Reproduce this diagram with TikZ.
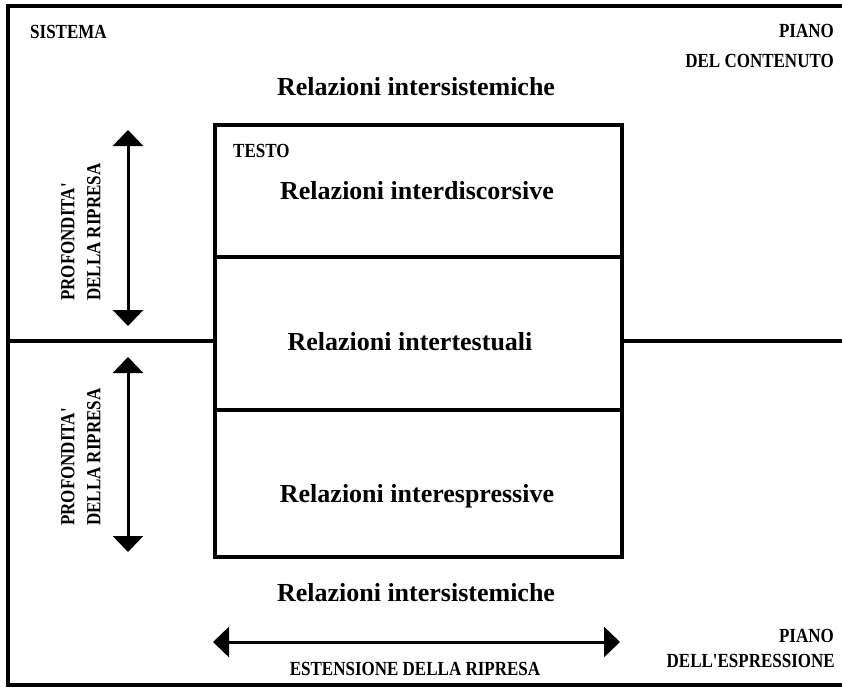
\documentclass[tikz,border=0pt]{standalone}
\usepackage{fontspec}
\setmainfont{Liberation Serif}
\newfontfamily\narrowfont[FakeStretch=0.85]{Liberation Serif}
\usetikzlibrary{positioning}
\usetikzlibrary{arrows.meta}
\tikzset{
  frame/.style    = {draw, line width=4pt, inner sep=0pt, outer sep=0pt,
                     minimum width=842pt, minimum height=679pt},
  row/.style      = {draw, line width=4pt, inner sep=0pt, outer sep=0pt,
                     minimum width=407pt},
  relation/.style = {font=\fontsize{26}{30}\selectfont\bfseries, anchor=base},
  tag/.style      = {font=\narrowfont\fontsize{20}{26}\selectfont\bfseries, inner sep=0pt},
  span/.style     = {line width=3pt,
                     {Triangle[width=30pt,length=16pt]}-{Triangle[width=30pt,length=16pt]}}
}

\begin{document}
\begin{tikzpicture}[x=1pt, y=-1pt]
  \useasboundingbox (0,0) rectangle (842,691);
  \node [frame] (frame) at (429,345.5) {};
  % the text box
  \node [row, minimum height=132pt] (discorsive) at (418.5,191) {};
  \node [row, minimum height=153pt] (testuali) [below=0pt of discorsive] {};
  \node [row, minimum height=147pt] (espressive) [below=0pt of testuali] {};
  \coordinate (split) at (0,341);
  \draw [line width=3.5pt] (frame.west |- split) -- (testuali.west |- split);
  \draw [line width=3.5pt] (testuali.east |- split) -- (frame.east |- split);
  % relations
  \node [relation] (sysup) at (416,95) {Relazioni intersistemiche};
  \node [relation] (disc) at (417,199) {Relazioni interdiscorsive};
  \node [relation] (test) at (410,350) {Relazioni intertestuali};
  \node [relation] (espr) at (417,502) {Relazioni interespressive};
  \node [relation] (sysdown) at (416,601) {Relazioni intersistemiche};
  % labels
  \node [tag, anchor=base west] (sistema) at (30,38) {SISTEMA};
  \node [tag, anchor=base west] (testo) at (233,157) {TESTO};
  \node [tag, anchor=base east] (piano1) at (834,37) {PIANO};
  \node [tag, anchor=base east] (contenuto) at (834,67) {DEL CONTENUTO};
  \node [tag, anchor=base east] (piano2) at (834,642) {PIANO};
  \node [tag, anchor=base east] (espressione) at (835,667) {DELL'ESPRESSIONE};
  \node [tag, anchor=base] (estensione) at (415,675) {ESTENSIONE DELLA RIPRESA};
  \node [tag, rotate=90, align=left, anchor=north west] (depth1) at (61,301) {PROFONDITA'\\DELLA RIPRESA};
  \node [tag, rotate=90, align=left, anchor=north west] (depth2) at (61,526) {PROFONDITA'\\DELLA RIPRESA};
  % arrows
  \coordinate (up1) at (128,130);
  \coordinate (dn1) at (128,326);
  \coordinate (up2) at (128,357);
  \coordinate (dn2) at (128,552);
  \coordinate (ext1) at (213,642);
  \coordinate (ext2) at (620,642);
  \draw [span] (up1) -- (dn1);
  \draw [span] (up2) -- (dn2);
  \draw [span] (ext1) -- (ext2);
\end{tikzpicture}
\end{document}
